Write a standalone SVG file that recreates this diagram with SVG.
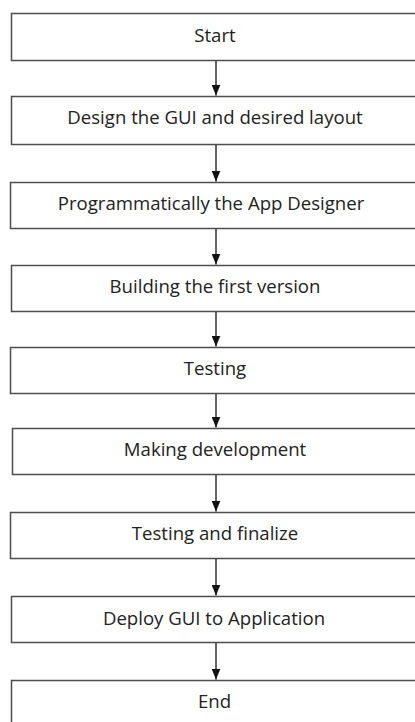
<svg xmlns="http://www.w3.org/2000/svg" width="415" height="722" viewBox="0 0 415 722">
<defs>
<style>
.box{fill:#ffffff;stroke:#4d4d4d;stroke-width:1.5}
.lbl{font-family:"Open Sans","Noto Sans",sans-serif;font-size:18.6px;fill:#222222;text-anchor:middle}
.conn{stroke:#111111;stroke-width:1.3;fill:none}
</style>
<marker id="ah" markerWidth="11" markerHeight="9" refX="11" refY="4.5" orient="auto" markerUnits="userSpaceOnUse" viewBox="0 0 11 9">
<path d="M0,0 L11,4.5 L0,9 Z" fill="#111111"/>
</marker>
</defs>
<rect width="415" height="722" fill="#ffffff"/>
<g id="n1"><rect class="box" x="11.5" y="13.5" width="420" height="47"/><text class="lbl" x="215" y="42">Start</text></g>
<g id="n2"><rect class="box" x="11.5" y="96.5" width="420" height="48"/><text class="lbl" x="215" y="124">Design the GUI and desired layout</text></g>
<g id="n3"><rect class="box" x="10.5" y="182.5" width="420" height="46"/><text class="lbl" x="211" y="210">Programmatically the App Designer</text></g>
<g id="n4"><rect class="box" x="11.5" y="265.5" width="420" height="46"/><text class="lbl" x="215" y="293">Building the first version</text></g>
<g id="n5"><rect class="box" x="10.5" y="347.5" width="420" height="46"/><text class="lbl" x="215" y="375">Testing</text></g>
<g id="n6"><rect class="box" x="12.5" y="428.5" width="420" height="46"/><text class="lbl" x="215" y="456">Making development</text></g>
<g id="n7"><rect class="box" x="10.5" y="512.5" width="420" height="46"/><text class="lbl" x="215" y="540">Testing and finalize</text></g>
<g id="n8"><rect class="box" x="11.5" y="596.5" width="420" height="46"/><text class="lbl" x="214" y="625">Deploy GUI to Application</text></g>
<g id="n9"><rect class="box" x="11.5" y="680.5" width="420" height="47"/><text class="lbl" x="214.5" y="708">End</text></g>
<g id="connectors">
<line class="conn" x1="216" y1="61" x2="216" y2="95.5" marker-end="url(#ah)"/>
<line class="conn" x1="216" y1="145" x2="216" y2="181.5" marker-end="url(#ah)"/>
<line class="conn" x1="216" y1="229" x2="216" y2="264.5" marker-end="url(#ah)"/>
<line class="conn" x1="216" y1="312" x2="216" y2="346.5" marker-end="url(#ah)"/>
<line class="conn" x1="216" y1="394" x2="216" y2="427.5" marker-end="url(#ah)"/>
<line class="conn" x1="216" y1="475" x2="216" y2="511.5" marker-end="url(#ah)"/>
<line class="conn" x1="216" y1="559" x2="216" y2="595.5" marker-end="url(#ah)"/>
<line class="conn" x1="216" y1="643" x2="216" y2="679.5" marker-end="url(#ah)"/>
</g>
</svg>
